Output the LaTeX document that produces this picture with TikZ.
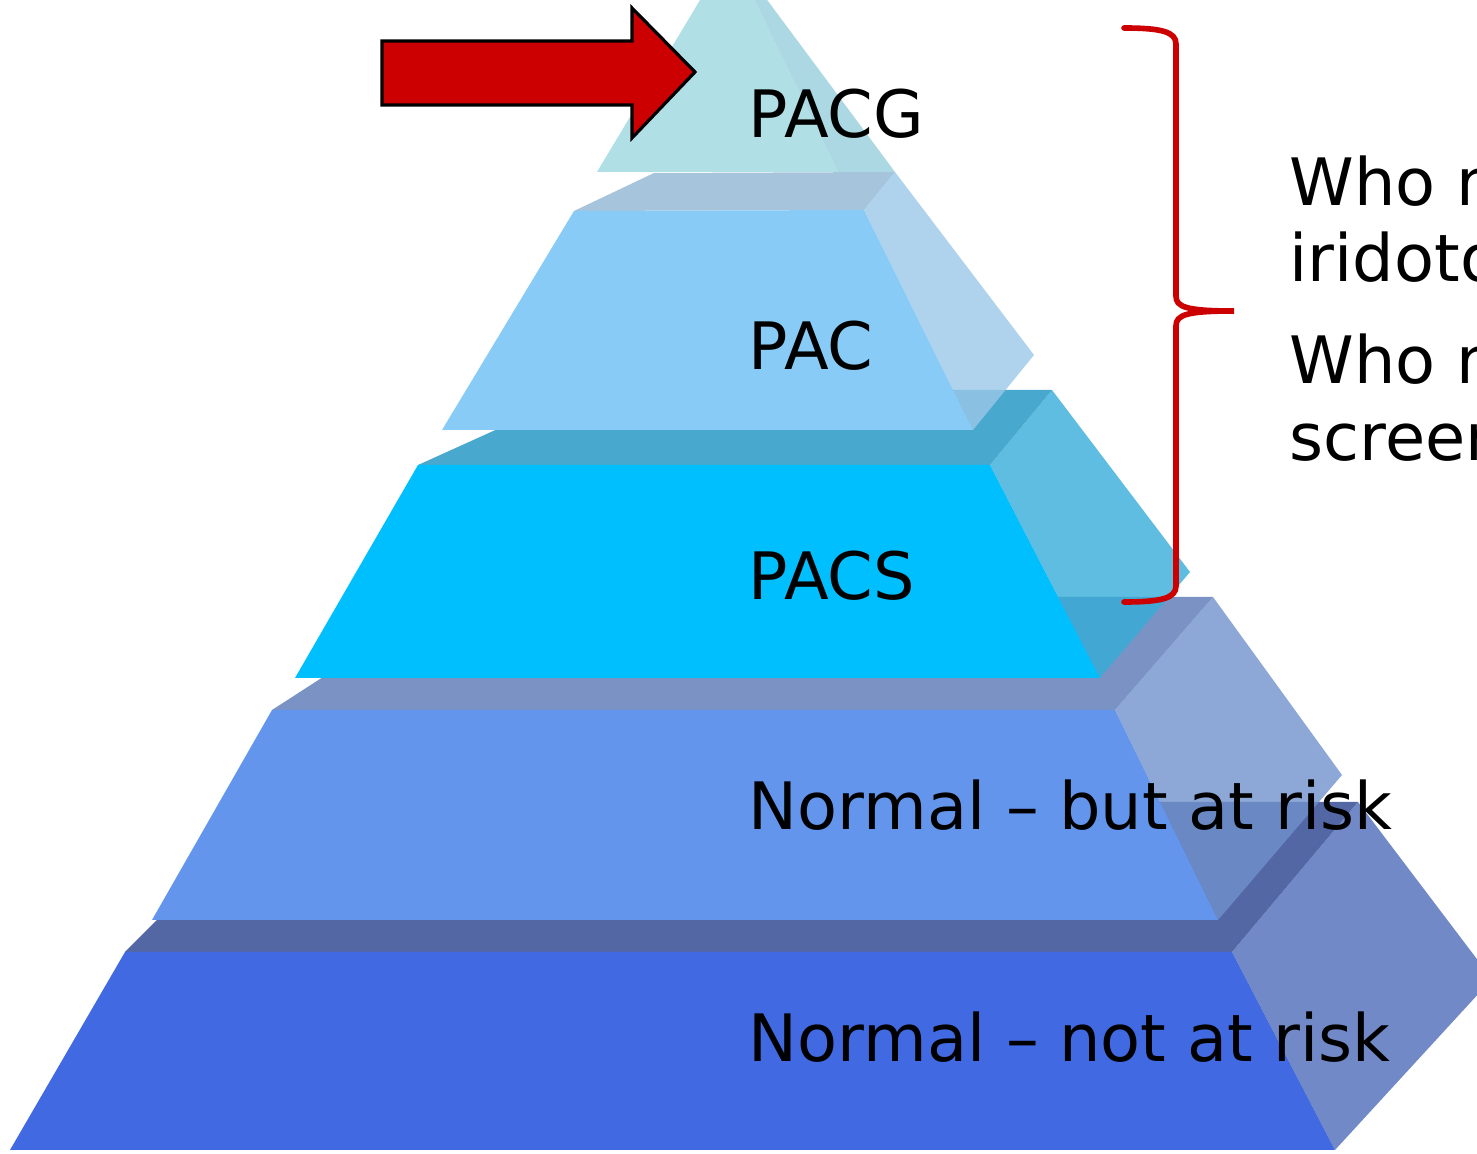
\documentclass[tikz,border=0pt]{standalone}
\usepackage{fontspec}
\setmainfont{DejaVu Sans}
\usepackage{xcolor}
\definecolor{pgtop}{RGB}{176,223,229}
\definecolor{pgtopside}{RGB}{171,216,226}
\definecolor{pgsecband}{RGB}{166,197,220}
\definecolor{pgsec}{RGB}{136,203,247}
\definecolor{pgsecside}{RGB}{155,200,231}
\definecolor{pgmidband}{RGB}{73,168,206}
\definecolor{pgmid}{RGB}{0,191,255}
\definecolor{pgmidside}{RGB}{54,172,216}
\definecolor{pgriskband}{RGB}{123,147,196}
\definecolor{pgrisk}{RGB}{100,149,237}
\definecolor{pgriskside}{RGB}{112,146,204}
\definecolor{pgbaseband}{RGB}{83,103,165}
\definecolor{pgbase}{RGB}{65,105,225}
\definecolor{pgbaseside}{RGB}{78,108,184}
\definecolor{pgred}{RGB}{204,0,0}
\usetikzlibrary{positioning}

\begin{document}
\begin{tikzpicture}[
  sideface/.style={fill=#1, fill opacity=0.8},
  lbl/.style={anchor=base west, inner sep=0pt, font=\fontsize{18.6}{21.6}\selectfont}
]
  \useasboundingbox (0,0) rectangle (14.77,11.54);
  \clip (0,0) rectangle (14.77,11.54);

  % Bottom layer: not at risk
  \fill[pgbaseband] (1.25,2.02) -- (2.75,3.52) -- (13.58,3.52) -- (12.32,2.02) -- cycle;
  \fill[pgbase] (0.10,0.04) -- (13.35,0.04) -- (12.32,2.02) -- (1.25,2.02) -- cycle;
  \fill[sideface=pgbaseside] (12.32,2.02) -- (13.58,3.52) -- (14.92,1.75) -- (13.35,0.04) -- cycle;

  % Fourth layer: at risk
  \fill[pgriskband] (2.72,4.44) -- (4.47,5.57) -- (12.13,5.57) -- (11.15,4.44) -- cycle;
  \fill[pgrisk] (1.52,2.34) -- (12.18,2.34) -- (11.15,4.44) -- (2.72,4.44) -- cycle;
  \fill[sideface=pgriskside] (11.15,4.44) -- (12.13,5.57) -- (13.42,3.79) -- (12.18,2.34) -- cycle;

  % Third layer: PACS
  \fill[pgmidband] (4.18,6.89) -- (5.84,7.64) -- (10.52,7.64) -- (9.90,6.89) -- cycle;
  \fill[pgmid] (2.95,4.76) -- (11.00,4.76) -- (9.90,6.89) -- (4.18,6.89) -- cycle;
  \fill[sideface=pgmidside] (9.90,6.89) -- (10.52,7.64) -- (11.90,5.82) -- (11.00,4.76) -- cycle;

  % Second layer: PAC
  \fill[pgsecband] (5.74,9.43) -- (6.54,9.81) -- (8.95,9.82) -- (8.64,9.44) -- cycle;
  \fill[pgsec] (4.42,7.24) -- (9.73,7.24) -- (8.64,9.44) -- (5.74,9.43) -- cycle;
  \fill[sideface=pgsecside] (8.64,9.44) -- (8.95,9.82) -- (10.34,7.99) -- (9.73,7.24) -- cycle;

  % Top: PACG
  \fill[pgtop] (5.97,9.82) -- (8.38,9.82) -- (7.30,12.04) -- cycle;
  \fill[pgtopside] (7.30,12.04) -- (8.38,9.82) -- (8.95,9.82) -- cycle;

  % Layer labels
  \node[lbl] (pacg) at (7.48,10.16) {PACG};
  \node[lbl] (pac) at (7.48,7.84) {PAC};
  \node[lbl] (pacs) at (7.48,5.54) {PACS};
  \node[lbl] (atrisk) at (7.48,3.24) {Normal \textendash{} but at risk};
  \node[lbl] (notrisk) at (7.48,0.92) {Normal \textendash{} not at risk};

  % Pointer
  \draw[fill=pgred, draw=black, line width=0.9pt] (3.82,11.13) -- (6.32,11.13) -- (6.32,11.46)
    -- (6.95,10.82) -- (6.32,10.16) -- (6.32,10.49) -- (3.82,10.49) -- cycle;

  % Brace
  \draw[pgred, line width=1.6pt, line cap=round] (11.24,11.26)
    .. controls (11.62,11.26) and (11.76,11.22) .. (11.76,11.10) -- (11.76,8.58)
    .. controls (11.76,8.47) and (11.86,8.43) .. (12.34,8.43)
    .. controls (11.86,8.43) and (11.76,8.39) .. (11.76,8.28) -- (11.76,5.68)
    .. controls (11.76,5.56) and (11.62,5.52) .. (11.24,5.52);

  % Questions
  \node[lbl] (who1) at (12.89,9.48) {Who needs};
  \node[lbl] (irid) at (12.89,8.72) {iridotomy?};
  \node[lbl] (who2) at (12.89,7.70) {Who needs};
  \node[lbl] (screen) at (12.89,6.93) {screening?};
\end{tikzpicture}
\end{document}
